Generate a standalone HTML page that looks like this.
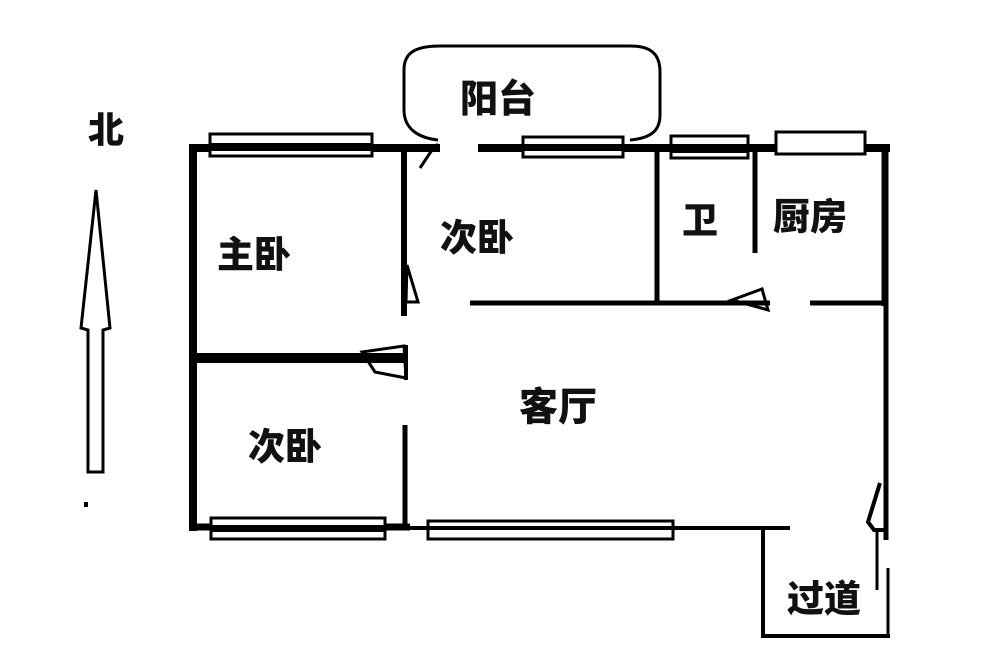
<!DOCTYPE html>
<html><head><meta charset="utf-8"><style>
html,body{margin:0;padding:0;background:#fff;}
svg{display:block}
text{font-family:"Liberation Sans","Noto Sans CJK SC",sans-serif;font-weight:900;fill:#111;text-anchor:middle;dominant-baseline:central}
</style></head><body>
<svg width="1000" height="669" viewBox="0 0 1000 669" xmlns="http://www.w3.org/2000/svg">
<rect width="1000" height="669" fill="#fff"/>
<g stroke="#000" fill="none" stroke-linecap="butt">
<path d="M438,140 C420,138 404,130 404,110 L404,70 C404,55 412,46 440,46 L630,46 C652,46 660,55 660,72 L660,115 C660,130 652,138 630,140" stroke-width="3"/>
<line x1="193" y1="144" x2="193" y2="531" stroke-width="8"/>
<line x1="189" y1="148" x2="440" y2="148" stroke-width="8"/>
<line x1="478" y1="148" x2="890" y2="148" stroke-width="8"/>
<line x1="885" y1="144" x2="885" y2="306" stroke-width="7"/>
<line x1="886" y1="306" x2="886" y2="540" stroke-width="5"/>
<line x1="189" y1="527" x2="410" y2="527" stroke-width="7"/>
<line x1="410" y1="528" x2="790" y2="528" stroke-width="4"/>
<polyline points="438,144 432,150 420,168" stroke-width="3"/>
<line x1="404" y1="148" x2="404" y2="316" stroke-width="6"/>
<polygon points="407,265 418,302 406,302" stroke-width="3"/>
<line x1="193" y1="358" x2="408" y2="358" stroke-width="10"/>
<polygon points="362,352 404,346 406,378 375,372" stroke-width="3" fill="none"/>
<line x1="406" y1="345" x2="406" y2="380" stroke-width="4"/>
<line x1="405" y1="425" x2="405" y2="527" stroke-width="5"/>
<line x1="470" y1="303" x2="770" y2="303" stroke-width="5"/>
<line x1="810" y1="303" x2="886" y2="303" stroke-width="5"/>
<line x1="657" y1="148" x2="657" y2="303" stroke-width="5"/>
<line x1="755" y1="148" x2="755" y2="253" stroke-width="5"/>
<polygon points="732,300 762,289 768,310" stroke-width="3"/>
<line x1="763" y1="527" x2="763" y2="637" stroke-width="4"/>
<line x1="761" y1="636" x2="890" y2="636" stroke-width="4"/>
<line x1="888" y1="568" x2="888" y2="638" stroke-width="3"/>
<line x1="877" y1="530" x2="877" y2="590" stroke-width="3"/>
<polyline points="880,483 868,522 874,530 886,530" stroke-width="4"/>
<polygon points="96,190 110,328 103,330 103,472 88,472 88,330 81,328" stroke-width="3"/>
</g>
<g fill="#fff" stroke="#000" stroke-width="3">
<rect x="210" y="134" width="162" height="22"/>
<rect x="523" y="137" width="100" height="20"/>
<rect x="671" y="136" width="77" height="22"/>
<rect x="776" y="132" width="89" height="22"/>
<rect x="211" y="518" width="174" height="21"/>
<rect x="428" y="521" width="245" height="18"/>
</g>
<g fill="#000">
<rect x="210" y="143" width="162" height="8"/>
<rect x="523" y="144" width="100" height="7"/>
<rect x="671" y="144" width="77" height="9"/>
<rect x="211" y="525" width="174" height="7"/>
<rect x="428" y="526" width="245" height="4"/>
<rect x="84" y="502" width="4" height="5"/>
</g>
<text x="106" y="130" font-size="36">北</text>
<text x="498" y="100" font-size="38">阳台</text>
<text x="254" y="255" font-size="37">主卧</text>
<text x="477" y="238" font-size="37">次卧</text>
<text x="700" y="220" font-size="36">卫</text>
<text x="810" y="217" font-size="37">厨房</text>
<text x="558" y="408" font-size="39">客厅</text>
<text x="285" y="447" font-size="37">次卧</text>
<text x="824" y="599" font-size="37">过道</text>
</svg>
</body></html>
